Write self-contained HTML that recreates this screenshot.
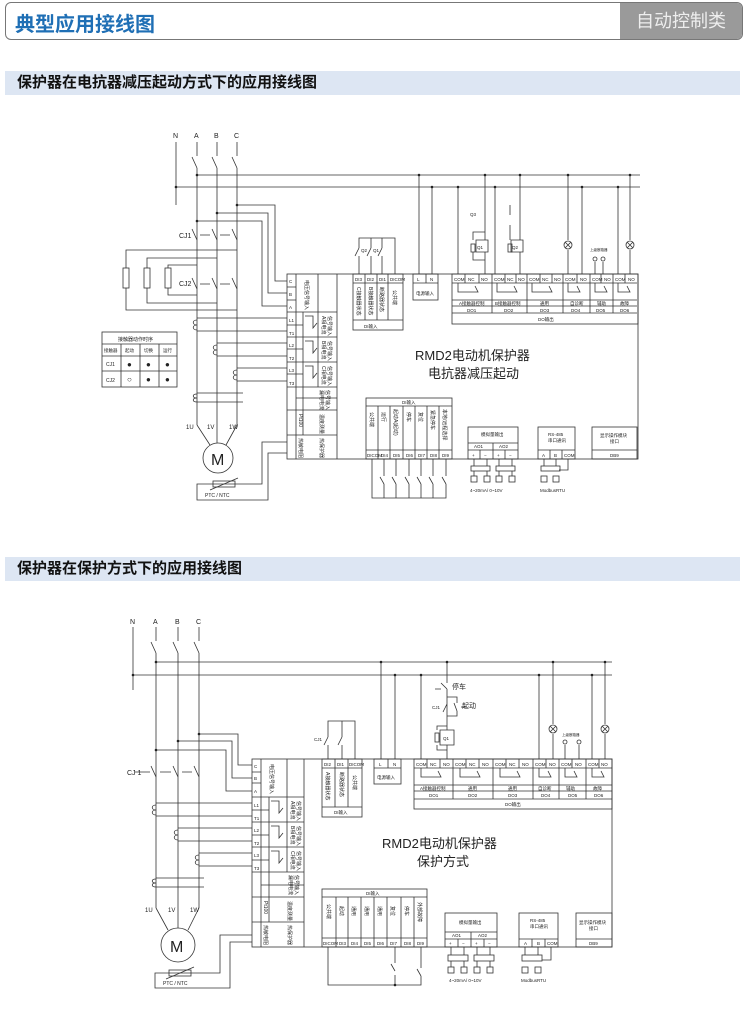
<!DOCTYPE html>
<html><head><meta charset="utf-8">
<style>
html,body{margin:0;padding:0;background:#fff;}
body{width:750px;height:1012px;position:relative;overflow:hidden;font-family:"Liberation Sans","Noto Sans CJK SC",sans-serif;}
.hdr{position:absolute;left:5px;top:2px;width:736px;height:36px;border:1px solid #777;border-radius:6px;overflow:hidden;}
.hdr .t{position:absolute;left:9px;top:5px;font-size:20px;font-weight:bold;color:#1f6fb5;}
.hdr .r{position:absolute;right:0;top:0;width:122px;height:36px;background:#9a9a9a;color:#eee;font-size:18px;line-height:36px;text-align:center;}
.sec{position:absolute;left:5px;width:735px;height:24px;background:#dde6f3;font-size:15px;font-weight:bold;color:#111;line-height:24px;padding-left:12px;box-sizing:border-box;}
svg{position:absolute;left:0;top:0;}
svg text{font-family:"Liberation Sans","Noto Sans CJK SC",sans-serif;fill:#222;}
.v text{font-size:5px;}
</style></head><body>
<div class="hdr"><div class="t">典型应用接线图</div><div class="r">自动控制类</div></div>
<div class="sec" style="top:71px">保护器在电抗器减压起动方式下的应用接线图</div>
<div class="sec" style="top:557px">保护器在保护方式下的应用接线图</div>

<svg width="750" height="1012" viewBox="0 0 750 1012">
<g stroke="#333" stroke-width="0.8" fill="none">
<!-- ================= DIAGRAM 1 ================= -->
<line x1="176" y1="142" x2="176" y2="205"/>
<line x1="197" y1="175" x2="640" y2="175"/>
<line x1="176" y1="187" x2="640" y2="187"/>
<path d="M197 142V156M197 168V425M192 157L197 168"/>
<path d="M217 142V156M217 168V425M212 157L217 168"/>
<path d="M237 142V156M237 168V425M232 157L237 168"/>
<path d="M192 229L197 240M212 229L217 240M232 229L237 240M200 235H210M220 235H230"/>
<path d="M192 278L197 289M212 278L217 289M232 278L237 289M200 284H210M220 284H230"/>
<rect x="123" y="268" width="6" height="20"/>
<rect x="144" y="268" width="6" height="20"/>
<rect x="165" y="268" width="6" height="20"/>
<path d="M126 268V250H237M126 288V310H237"/>
<path d="M147 268V258H217M147 288V303H217"/>
<path d="M168 268V265H197M168 288V295H197"/>
<path d="M237 205H275V281H287"/>
<path d="M217 213H268V293H287"/>
<path d="M197 221H262V306H287"/>
<path d="M197 318H287M197 331H287M217 343H287M217 356H287M237 368H287M237 381H287"/>
<path d="M197 393H243M197 402H243"/>
<path d="M197 320c-5 0-5 5 0 5c-5 0-5 5 0 5"/>
<path d="M217 345c-5 0-5 5 0 5c-5 0-5 5 0 5"/>
<path d="M237 370c-5 0-5 5 0 5c-5 0-5 5 0 5"/>
<path d="M197 394c-5 0-5 4 0 4c-5 0-5 4 0 4"/>
<path d="M197 425L210 445M217 425V443M237 425L226 445"/>
<circle cx="218" cy="458" r="15"/>
<path d="M287 442H262V484H197V500H268V453H287"/>
<rect x="213" y="481" width="22" height="6"/>
<path d="M210 490L238 478"/>
<rect x="102" y="332" width="75" height="55"/>
<path d="M102 344H177M102 356H177M102 371H177M121 344V387M140 344V387M159 344V387"/>
<rect x="287" y="274" width="351" height="185"/>
<path d="M337 274V459M296 274V459M318 274V312M303 312V435M318 312V387M287 287H296M287 300H296M287 312H337M287 337H337M287 362H337M287 387H337M287 410H337M287 435H337M287 325H303M287 349H303M287 374H303M303 398H337M296 398H303"/>
<path d="M305 316h8v12l4-5M305 341h8v12l4-5M305 366h8v12l4-5"/>
<rect x="353" y="274" width="50" height="56"/>
<path d="M353 283H403M353 320H403M365 274V320M377 274V320M388 274V320"/>
<path d="M359 274V256M371 274V256M382 274V256M395 274V238H359V248M371 238V248M382 238V248M359 248L355 256M371 248L367 256M382 248L378 256"/>
<rect x="413" y="274" width="25" height="26"/>
<path d="M413 283H438M426 274V283M419 274V175M432 274V187"/>
<rect x="452" y="274" width="186" height="50"/>
<path d="M452 283H637M452 300H637M452 306H637M452 313H637M492 274V313M527 274V313M563 274V313M590 274V313M613 274V313M465 274V283M479 274V283M505 274V283M516 274V283M540 274V283M552 274V283M577 274V283M601 274V283M625 274V283"/>
<path d="M458 283V292h20l-3-6M497 283V292h20l-3-6M532 283V292h20l-3-6M568 283V292h12l-3-6M595 283V292h12l-3-6M618 283V292h12l-3-6"/>
<path d="M458 274V187M485 274V252M485 240V175M476 240H488V252H476ZM473 240V232H485M473 252V260H485"/>
<rect x="471" y="244" width="4" height="8"/>
<path d="M495 274V187M520 274V252M520 240V175M511 240H523V252H511ZM510 240V225M510 215V205"/>
<rect x="508" y="244" width="4" height="8"/>
<path d="M568 274V250M568 240V175M582 274V187M618 274V187M630 274V250M630 240V175M595 274V262M603 274V262"/>
<circle cx="568" cy="245" r="4"/><path d="M565 242l6 6M571 242l-6 6"/>
<circle cx="630" cy="245" r="4"/><path d="M627 242l6 6M633 242l-6 6"/>
<circle cx="595" cy="259" r="2"/><circle cx="603" cy="259" r="2"/>
<rect x="366" y="398" width="86" height="61"/>
<path d="M366 406H452M366 450H452M378 406V459M390 406V459M403 406V459M415 406V459M427 406V459M439 406V459"/>
<path d="M372 459V498H446V484M384 459V476M396 459V476M409 459V476M421 459V476M433 459V476M446 459V476M384 484V498M396 484V498M409 484V498M421 484V498M433 484V498M380 477l4 7M392 477l4 7M405 477l4 7M417 477l4 7M429 477l4 7M442 477l4 7"/>
<rect x="468" y="427" width="50" height="32"/>
<path d="M468 443H518M468 450H518M493 443V459M480 450V459M505 450V459"/>
<path d="M474 459V466M487 459V466M499 459V466M512 459V466"/>
<rect x="471" y="466" width="19" height="5"/><rect x="496" y="466" width="19" height="5"/>
<path d="M474 471V476M487 471V476M499 471V476M512 471V476"/>
<rect x="471" y="476" width="6" height="6"/><rect x="484" y="476" width="6" height="6"/><rect x="496" y="476" width="6" height="6"/><rect x="509" y="476" width="6" height="6"/>
<rect x="538" y="427" width="37" height="32"/>
<path d="M538 450H575M550 450V459M562 450V459M544 459V466M556 459V466M568 459V470H559"/>
<rect x="541" y="466" width="19" height="5"/>
<rect x="541" y="476" width="6" height="6"/><rect x="553" y="476" width="6" height="6"/>
<rect x="592" y="427" width="45" height="32"/>
<path d="M592 450H637"/>

<!-- ================= DIAGRAM 2 ================= -->
<line x1="133" y1="627" x2="133" y2="690"/>
<line x1="156" y1="662" x2="612" y2="662"/>
<line x1="133" y1="675" x2="612" y2="675"/>
<path d="M156 627V641M156 653V908M151 642L156 653"/>
<path d="M178 627V641M178 653V928M173 642L178 653"/>
<path d="M199 627V641M199 653V908M194 642L199 653"/>
<path d="M151 766L156 777M173 766L178 777M194 766L199 777M135 772H150M160 772H171M182 772H192"/>
<path d="M199 734H238V765H252M178 741H232V778H252M156 750H226V791H252"/>
<path d="M156 803H252M156 816H252M178 828H252M178 841H252M199 853H252M199 866H252M156 878H204M156 887H204"/>
<path d="M156 805c-5 0-5 5 0 5c-5 0-5 5 0 5"/>
<path d="M178 830c-5 0-5 5 0 5c-5 0-5 5 0 5"/>
<path d="M199 855c-5 0-5 5 0 5c-5 0-5 5 0 5"/>
<path d="M156 879c-5 0-5 4 0 4c-5 0-5 4 0 4"/>
<path d="M156 908L168 930M199 908L188 930"/>
<circle cx="178" cy="945" r="17"/>
<path d="M252 935H220V973H155V988H230V942H252"/>
<rect x="169" y="970" width="22" height="6"/>
<path d="M166 979L194 967"/>
<rect x="252" y="759" width="360" height="188"/>
<path d="M304 759V947M261 759V947M287 759V797M269 797V922M287 797V872M252 772H261M252 783H261M252 797H304M252 822H304M252 847H304M252 872H304M252 897H304M252 922H304M252 810H269M252 835H269M252 860H269M269 885H304M261 885H269"/>
<path d="M271 801h8v12l4-5M271 826h8v12l4-5M271 851h8v12l4-5"/>
<rect x="322" y="759" width="40" height="58"/>
<path d="M322 768H362M322 807H362M335 759V807M348 759V807"/>
<path d="M328 759V745M342 759V745M355 759V721H328V737M342 721V737M328 737L324 745M342 737L338 745"/>
<rect x="374" y="759" width="27" height="25"/>
<path d="M374 768H401M388 759V768M381 759V662M395 759V675"/>
<rect x="414" y="759" width="198" height="50"/>
<path d="M414 768H612M414 785H612M414 791H612M414 799H612M453 759V799M493 759V799M533 759V799M559 759V799M586 759V799M427 759V768M440 759V768M466 759V768M479 759V768M506 759V768M519 759V768M546 759V768M572 759V768M599 759V768"/>
<path d="M421 768V777h20l-3-6M460 768V777h20l-3-6M500 768V777h20l-3-6M539 768V777h12l-3-6M565 768V777h12l-3-6M592 768V777h12l-3-6"/>
<path d="M421 759V675M447 759V745M447 730V716M447 662V683M447 689V697M441 683L447 689M441 689H435"/>
<path d="M447 697H457V703M447 697V716M447 716H457V711M454 703L457 711M461 707H467M447 704L443 712"/>
<path d="M440 730H454V745H440ZM437 730V726H447M437 745V750H447"/>
<rect x="435" y="733" width="4" height="9"/>
<path d="M539 759V675M553 759V734M553 724V662M592 759V675M605 759V734M605 724V662M565 759V745M579 759V745"/>
<circle cx="553" cy="729" r="4"/><path d="M550 726l6 6M556 726l-6 6"/>
<circle cx="605" cy="729" r="4"/><path d="M602 726l6 6M608 726l-6 6"/>
<circle cx="565" cy="742" r="2"/><circle cx="579" cy="742" r="2"/>
<rect x="322" y="889" width="105" height="58"/>
<path d="M322 897H427M322 938H427M336 897V947M348 897V947M361 897V947M374 897V947M387 897V947M401 897V947M414 897V947"/>
<path d="M328 947V985H395V975M395 947V963M391 964l4 7M421 947V968M421 976V985H395M417 969l4 7"/>
<rect x="445" y="913" width="52" height="34"/>
<path d="M445 932H497M445 939H497M471 932V947M458 939V947M484 939V947"/>
<path d="M451 947V955M464 947V955M477 947V955M490 947V955"/>
<rect x="448" y="955" width="20" height="6"/><rect x="474" y="955" width="20" height="6"/>
<path d="M451 961V967M464 961V967M477 961V967M490 961V967"/>
<rect x="448" y="967" width="6" height="6"/><rect x="461" y="967" width="6" height="6"/><rect x="474" y="967" width="6" height="6"/><rect x="487" y="967" width="6" height="6"/>
<rect x="519" y="913" width="39" height="34"/>
<path d="M519 939H558M532 939V947M545 939V947M525 947V955M538 947V955M551 947V960H542"/>
<rect x="522" y="955" width="20" height="6"/>
<rect x="522" y="967" width="6" height="6"/><rect x="535" y="967" width="6" height="6"/>
<rect x="576" y="913" width="36" height="34"/>
<path d="M576 939H612"/>
</g>

<g fill="#222">
<circle cx="197" cy="175" r="1.3"/><circle cx="176" cy="187" r="1.3"/><circle cx="237" cy="205" r="1.3"/><circle cx="217" cy="213" r="1.3"/><circle cx="197" cy="221" r="1.3"/>
<circle cx="419" cy="175" r="1.3"/><circle cx="432" cy="187" r="1.3"/><circle cx="458" cy="187" r="1.3"/><circle cx="485" cy="175" r="1.3"/><circle cx="495" cy="187" r="1.3"/><circle cx="520" cy="175" r="1.3"/><circle cx="568" cy="175" r="1.3"/><circle cx="582" cy="187" r="1.3"/><circle cx="618" cy="187" r="1.3"/><circle cx="630" cy="175" r="1.3"/>
<circle cx="156" cy="662" r="1.3"/><circle cx="133" cy="675" r="1.3"/><circle cx="199" cy="734" r="1.3"/><circle cx="178" cy="741" r="1.3"/><circle cx="156" cy="750" r="1.3"/>
<circle cx="381" cy="662" r="1.3"/><circle cx="395" cy="675" r="1.3"/><circle cx="421" cy="675" r="1.3"/><circle cx="447" cy="662" r="1.3"/><circle cx="539" cy="675" r="1.3"/><circle cx="553" cy="662" r="1.3"/><circle cx="592" cy="675" r="1.3"/><circle cx="605" cy="662" r="1.3"/>
<circle cx="395" cy="985" r="1.3"/>
</g>

<!-- vertical labels diagram 1 -->
<g class="v">
<text transform="translate(305,280) rotate(90)">电压信号输入</text>
<text transform="translate(322,316) rotate(90)">A相电流</text><text transform="translate(328,316) rotate(90)">信号输入</text>
<text transform="translate(322,341) rotate(90)">B相电流</text><text transform="translate(328,341) rotate(90)">信号输入</text>
<text transform="translate(322,366) rotate(90)">C相电流</text><text transform="translate(328,366) rotate(90)">信号输入</text>
<text transform="translate(320,390) rotate(90)">漏电电流</text><text transform="translate(326,390) rotate(90)">信号输入</text>
<text transform="translate(299,414) rotate(90)">Pt100</text><text transform="translate(320,414) rotate(90)">温度测量</text>
<text transform="translate(299,438) rotate(90)">热敏电阻</text><text transform="translate(320,438) rotate(90)">热保护器</text>
<text transform="translate(357,287) rotate(90)">C接触器状态</text><text transform="translate(369,287) rotate(90)">B接触器状态</text><text transform="translate(380,287) rotate(90)">断路器状态</text><text transform="translate(393,290) rotate(90)">公共端</text>
<text transform="translate(370,412) rotate(90)">公共端</text><text transform="translate(382,412) rotate(90)">运行</text><text transform="translate(394,409) rotate(90)">起动A(起动)</text><text transform="translate(407,412) rotate(90)">停车</text><text transform="translate(419,412) rotate(90)">复位</text><text transform="translate(431,410) rotate(90)">紧急停车</text><text transform="translate(443,409) rotate(90)">本地/远程选择</text>
</g>
<!-- vertical labels diagram 2 -->
<g class="v">
<text transform="translate(270,764) rotate(90)">电压信号输入</text>
<text transform="translate(291,801) rotate(90)">A相电流</text><text transform="translate(297,801) rotate(90)">信号输入</text>
<text transform="translate(291,826) rotate(90)">B相电流</text><text transform="translate(297,826) rotate(90)">信号输入</text>
<text transform="translate(291,851) rotate(90)">C相电流</text><text transform="translate(297,851) rotate(90)">信号输入</text>
<text transform="translate(289,875) rotate(90)">漏电电流</text><text transform="translate(295,875) rotate(90)">信号输入</text>
<text transform="translate(264,901) rotate(90)">Pt100</text><text transform="translate(288,901) rotate(90)">温度测量</text>
<text transform="translate(264,925) rotate(90)">热敏电阻</text><text transform="translate(288,925) rotate(90)">热保护器</text>
<text transform="translate(326,772) rotate(90)">A接触器状态</text><text transform="translate(340,772) rotate(90)">断路器状态</text><text transform="translate(353,775) rotate(90)">公共端</text>
<text transform="translate(327,904) rotate(90)">公共端</text><text transform="translate(340,906) rotate(90)">起动</text><text transform="translate(352,906) rotate(90)">通用</text><text transform="translate(365,906) rotate(90)">通用</text><text transform="translate(378,906) rotate(90)">通用</text><text transform="translate(391,906) rotate(90)">复位</text><text transform="translate(405,906) rotate(90)">停车</text><text transform="translate(418,902) rotate(90)">外部故障</text>
</g>

<g font-size="7">
<text x="173" y="138">N</text><text x="194" y="138">A</text><text x="214" y="138">B</text><text x="234" y="138">C</text>
<text x="179" y="238">CJ1</text><text x="179" y="286">CJ2</text>
<text x="186" y="429" font-size="6">1U</text><text x="207" y="429" font-size="6">1V</text><text x="229" y="429" font-size="6">1W</text>
<text x="211" y="465" font-size="16">M</text>
<text x="205" y="497" font-size="5">PTC / NTC</text>
<text x="118" y="341" font-size="5">接触器动作时序</text>
<text x="104" y="352" font-size="4.5">接触器</text><text x="125" y="352" font-size="4.5">起动</text><text x="144" y="352" font-size="4.5">切换</text><text x="163" y="352" font-size="4.5">运行</text>
<text x="106" y="366" font-size="5">CJ1</text><text x="106" y="382" font-size="5">CJ2</text>
<text x="127" y="367" font-size="8">●</text><text x="146" y="367" font-size="8">●</text><text x="165" y="367" font-size="8">●</text>
<text x="127" y="382" font-size="8">○</text><text x="146" y="382" font-size="8">●</text><text x="165" y="382" font-size="8">●</text>
<text x="415" y="360" font-size="13">RMD2电动机保护器</text>
<text x="428" y="378" font-size="13">电抗器减压起动</text>
<g font-size="4.5">
<text x="289" y="283">C</text><text x="289" y="296">B</text><text x="289" y="309">A</text>
<text x="289" y="322">L1</text><text x="289" y="335">T1</text><text x="289" y="347">L2</text><text x="289" y="360">T2</text><text x="289" y="372">L3</text><text x="289" y="385">T3</text>
<text x="355" y="281">DI3</text><text x="367" y="281">DI2</text><text x="379" y="281">DI1</text><text x="390" y="281">DICOM</text>
<text x="364" y="328">DI输入</text>
<text x="417" y="281">L</text><text x="430" y="281">N</text><text x="416" y="295">电源输入</text>
<text x="454" y="281">COM</text><text x="468" y="281">NC</text><text x="481" y="281">NO</text>
<text x="494" y="281">COM</text><text x="507" y="281">NC</text><text x="518" y="281">NO</text>
<text x="529" y="281">COM</text><text x="542" y="281">NC</text><text x="554" y="281">NO</text>
<text x="565" y="281">COM</text><text x="580" y="281">NO</text><text x="592" y="281">COM</text><text x="604" y="281">NO</text><text x="615" y="281">COM</text><text x="628" y="281">NO</text>
<text x="459" y="305">A接触器控制</text><text x="495" y="305">B接触器控制</text><text x="540" y="305">通用</text><text x="570" y="305">自诊断</text><text x="597" y="305">辅助</text><text x="620" y="305">故障</text>
<text x="467" y="312">DO1</text><text x="504" y="312">DO2</text><text x="540" y="312">DO3</text><text x="571" y="312">DO4</text><text x="596" y="312">DO5</text><text x="620" y="312">DO6</text>
<text x="538" y="321">DO输出</text>
<text x="402" y="404">DI输入</text>
<text x="367" y="457">DICOM</text><text x="381" y="457">DI4</text><text x="393" y="457">DI5</text><text x="406" y="457">DI6</text><text x="418" y="457">DI7</text><text x="430" y="457">DI8</text><text x="442" y="457">DI9</text>
<text x="481" y="436">模拟量输出</text><text x="474" y="448">AO1</text><text x="499" y="448">AO2</text>
<text x="472" y="457">+</text><text x="484" y="457">−</text><text x="497" y="457">+</text><text x="509" y="457">−</text>
<text x="470" y="492">4~20mA/ 0~10V</text>
<text x="548" y="436">RS-485</text><text x="548" y="442">串口通讯</text>
<text x="542" y="457">A</text><text x="554" y="457">B</text><text x="564" y="457">COM</text>
<text x="540" y="492">ModbusRTU</text>
<text x="600" y="437">显示操作模块</text><text x="610" y="443">接口</text><text x="610" y="457">DB9</text>
<text x="470" y="216">Q3</text><text x="361" y="252">Q2</text><text x="373" y="252">Q1</text>
<text x="477" y="249">Q1</text><text x="512" y="249">Q2</text>
<text x="590" y="251" font-size="3.5">上级断路器</text>
</g>
</g>

<g font-size="7">
<text x="130" y="624">N</text><text x="153" y="624">A</text><text x="175" y="624">B</text><text x="196" y="624">C</text>
<text x="127" y="775">CJ 1</text>
<text x="145" y="912" font-size="6">1U</text><text x="168" y="912" font-size="6">1V</text><text x="190" y="912" font-size="6">1W</text>
<text x="170" y="952" font-size="16">M</text>
<text x="163" y="985" font-size="5">PTC / NTC</text>
<text x="382" y="848" font-size="13">RMD2电动机保护器</text>
<text x="417" y="866" font-size="13">保护方式</text>
<text x="452" y="689" font-size="7">停车</text><text x="462" y="708" font-size="7">起动</text>
<g font-size="4.5">
<text x="254" y="768">C</text><text x="254" y="780">B</text><text x="254" y="793">A</text>
<text x="254" y="807">L1</text><text x="254" y="820">T1</text><text x="254" y="832">L2</text><text x="254" y="845">T2</text><text x="254" y="857">L3</text><text x="254" y="870">T3</text>
<text x="324" y="766">DI2</text><text x="337" y="766">DI1</text><text x="349" y="766">DICOM</text>
<text x="334" y="814">DI输入</text><text x="314" y="741">CJ1</text>
<text x="379" y="766">L</text><text x="393" y="766">N</text><text x="377" y="779">电源输入</text>
<text x="416" y="766">COM</text><text x="430" y="766">NC</text><text x="443" y="766">NO</text>
<text x="455" y="766">COM</text><text x="469" y="766">NC</text><text x="482" y="766">NO</text>
<text x="495" y="766">COM</text><text x="509" y="766">NC</text><text x="522" y="766">NO</text>
<text x="535" y="766">COM</text><text x="549" y="766">NO</text><text x="561" y="766">COM</text><text x="575" y="766">NO</text><text x="588" y="766">COM</text><text x="601" y="766">NO</text>
<text x="420" y="790">A接触器控制</text><text x="468" y="790">通用</text><text x="508" y="790">通用</text><text x="538" y="790">自诊断</text><text x="566" y="790">辅助</text><text x="593" y="790">故障</text>
<text x="429" y="797">DO1</text><text x="468" y="797">DO2</text><text x="508" y="797">DO3</text><text x="541" y="797">DO4</text><text x="568" y="797">DO5</text><text x="594" y="797">DO6</text>
<text x="505" y="806">DO输出</text>
<text x="366" y="895">DI输入</text>
<text x="323" y="945">DICOM</text><text x="339" y="945">DI3</text><text x="351" y="945">DI4</text><text x="364" y="945">DI5</text><text x="377" y="945">DI6</text><text x="390" y="945">DI7</text><text x="404" y="945">DI8</text><text x="417" y="945">DI9</text>
<text x="459" y="924">模拟量输出</text><text x="452" y="937">AO1</text><text x="478" y="937">AO2</text>
<text x="449" y="945">+</text><text x="462" y="945">−</text><text x="475" y="945">+</text><text x="488" y="945">−</text>
<text x="449" y="982">4~20mA/ 0~10V</text>
<text x="530" y="922">RS-485</text><text x="530" y="928">串口通讯</text>
<text x="524" y="945">A</text><text x="537" y="945">B</text><text x="547" y="945">COM</text>
<text x="521" y="982">ModbusRTU</text>
<text x="579" y="924">显示操作模块</text><text x="589" y="930">接口</text><text x="589" y="945">DB9</text>
<text x="443" y="740">Q1</text><text x="432" y="709">CJ1</text>
<text x="562" y="736" font-size="3.5">上级断路器</text>
</g>
</g>
</svg>
</body></html>
